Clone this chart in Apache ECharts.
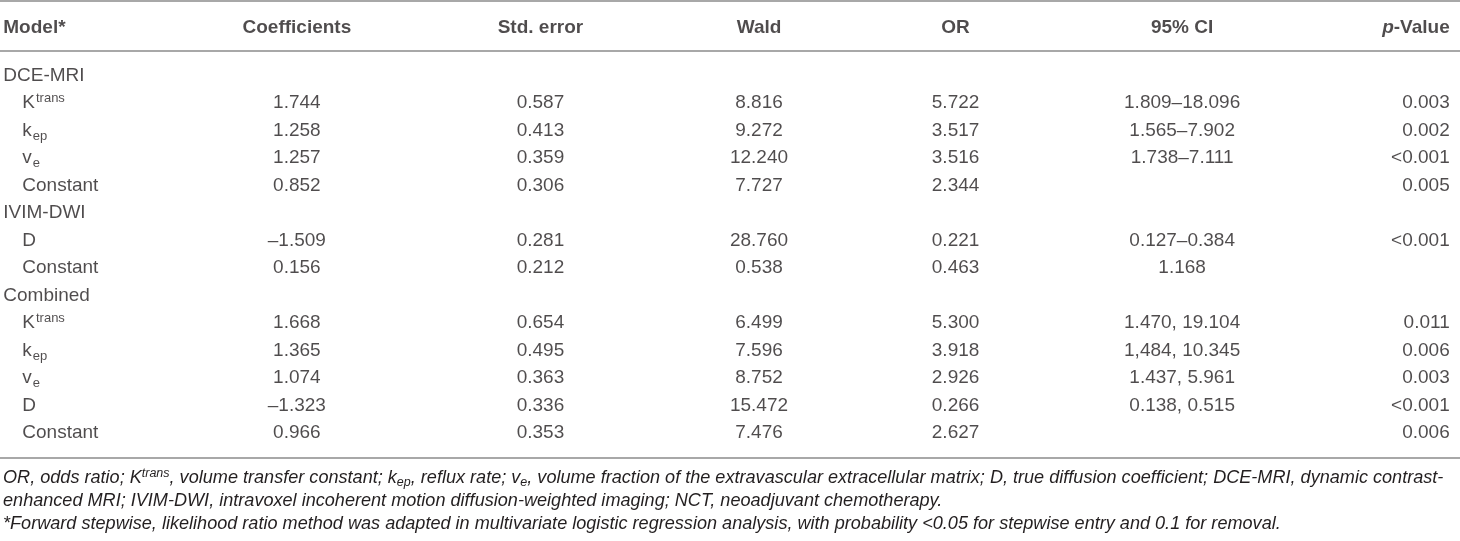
<!DOCTYPE html>
<html>
<head>
<meta charset="utf-8">
<script src="https://cdn.jsdelivr.net/npm/echarts@6/dist/echarts.min.js"></script>
<style>
  html, body { margin: 0; padding: 0; background: #fff; }
  #chart-container { width: 1460px; height: 541px; }
</style>
</head>
<body>
<div id="chart-container"></div>
<script>
const columns = ["Model*", "Coefficients", "Std. error", "Wald", "OR", "95% CI", "p-Value"];

// "^" marks a superscript, "_" a subscript
const models = [
  "DCE-MRI", "K^trans", "k_ep", "v_e", "Constant",
  "IVIM-DWI", "D", "Constant",
  "Combined", "K^trans", "k_ep", "v_e", "D", "Constant"
];
const coefficients = [null, 1.744, 1.258, 1.257, 0.852, null, -1.509, 0.156, null, 1.668, 1.365, 1.074, -1.323, 0.966];
const stdErrors = [null, 0.587, 0.413, 0.359, 0.306, null, 0.281, 0.212, null, 0.654, 0.495, 0.363, 0.336, 0.353];
const waldValues = [null, 8.816, 9.272, 12.240, 7.727, null, 28.760, 0.538, null, 6.499, 7.596, 8.752, 15.472, 7.476];
const oddsRatios = [null, 5.722, 3.517, 3.516, 2.344, null, 0.221, 0.463, null, 5.300, 3.918, 2.926, 0.266, 2.627];
const ci95 = ["", "1.809–18.096", "1.565–7.902", "1.738–7.111", "", "", "0.127–0.384", "1.168", "", "1.470, 19.104", "1,484, 10.345", "1.437, 5.961", "0.138, 0.515", ""];
const pValues = ["", "0.003", "0.002", "<0.001", "0.005", "", "<0.001", "", "", "0.011", "0.006", "0.003", "<0.001", "0.006"];

const footnotes = [
  "{f|OR, odds ratio; K}{fsup|trans}{f|, volume transfer constant; k}{fsub|ep}{f|, reflux rate; v}{fsub|e}{f|, volume fraction of the extravascular extracellular matrix; D, true diffusion coefficient; DCE-MRI, dynamic contrast-}",
  "{f|enhanced MRI; IVIM-DWI, intravoxel incoherent motion diffusion-weighted imaging; NCT, neoadjuvant chemotherapy.}",
  "{f|*Forward stepwise, likelihood ratio method was adapted in multivariate logistic regression analysis, with probability <0.05 for stepwise entry and 0.1 for removal.}"
];

const textColor = "#231f20";
const ruleColor = "#a8a8a8";
const font = "Liberation Sans";

const colAlign = ["left", "center", "center", "center", "center", "center", "right"];
const colOffset = [-101, -16, 19, 29, 17, 35, 94];
const indent = 19;

const fmt = (v) => v === null ? "" : (v < 0 ? "\u2013" + (-v).toFixed(3) : v.toFixed(3));

const richName = (name) => {
  if (name.indexOf("^") > -1) {
    const [b, s] = name.split("^");
    return `{n|${b}}{sup|${s}}`;
  }
  if (name.indexOf("_") > -1) {
    const [b, s] = name.split("_");
    return `{n|${b}}{sub|${s}}`;
  }
  return `{n|${name}}`;
};

const isGroup = coefficients.map((v) => v === null);

const cells = [
  models.map(richName),
  coefficients.map(fmt),
  stdErrors.map(fmt),
  waldValues.map(fmt),
  oddsRatios.map(fmt),
  ci95,
  pValues
];

const bodyRich = {
  n: { fontSize: 19, fontFamily: font, color: textColor, lineHeight: 24 },
  sup: { fontSize: 13, fontFamily: font, color: textColor, verticalAlign: "top", padding: [1, 0, 0, 1] },
  sub: { fontSize: 13, fontFamily: font, color: textColor, verticalAlign: "bottom", padding: [0, 0, 0, 1] }
};

const chart = echarts.init(document.getElementById("chart-container"), null, { renderer: "canvas" });

const bodySeries = cells.map((col, k) => ({
  type: "scatter",
  xAxisIndex: 2,
  yAxisIndex: 1,
  symbolSize: 0,
  silent: true,
  data: col.map((t, i) => {
    if (!t) return null;
    const item = { value: [k, i], text: t };
    if (k === 0 && !isGroup[i]) item.label = { offset: [colOffset[0] + indent, 0] };
    return item;
  }).filter(Boolean),
  label: {
    show: true,
    position: "inside",
    align: colAlign[k],
    verticalAlign: "middle",
    offset: [colOffset[k], 0],
    fontSize: 19,
    fontFamily: font,
    color: textColor,
    formatter: (p) => p.data.text,
    rich: bodyRich
  }
}));

const headerSeries = columns.map((name, k) => ({
  type: "scatter",
  xAxisIndex: 0,
  yAxisIndex: 0,
  symbolSize: 0,
  silent: true,
  data: [[k, 0]],
  label: {
    show: true,
    position: "inside",
    align: colAlign[k],
    verticalAlign: "middle",
    offset: [colOffset[k], 2],
    formatter: name === "p-Value" ? "{hi|p}{h|-Value}" : `{h|${name}}`,
    rich: {
      h: { fontSize: 19, fontWeight: "bold", fontFamily: font, color: textColor },
      hi: { fontSize: 19, fontWeight: "bold", fontStyle: "italic", fontFamily: font, color: textColor }
    }
  }
}));

const hiddenAxis = {
  axisTick: { show: false },
  axisLabel: { show: false },
  splitLine: { show: false }
};

const option = {
  backgroundColor: "#ffffff",
  animation: false,
  title: {
    left: 3,
    top: 466,
    padding: 0,
    text: footnotes.join("\n"),
    textStyle: {
      fontWeight: "normal",
      rich: {
        f: { fontSize: 18.1, fontStyle: "italic", fontWeight: "normal", fontFamily: font, color: textColor, lineHeight: 23 },
        fsup: { fontSize: 12.5, fontStyle: "italic", fontWeight: "normal", fontFamily: font, color: textColor, verticalAlign: "top", padding: [1, 0, 0, 0] },
        fsub: { fontSize: 12.5, fontStyle: "italic", fontWeight: "normal", fontFamily: font, color: textColor, verticalAlign: "bottom" }
      }
    }
  },
  grid: [
    { left: 0, right: 0, top: 1, height: 50 },
    { left: 0, right: 0, top: 51, height: 407 }
  ],
  xAxis: [
    {
      gridIndex: 0, type: "category", data: columns, position: "top",
      axisLine: { show: true, onZero: false, lineStyle: { color: ruleColor, width: 2 } },
      ...hiddenAxis
    },
    {
      gridIndex: 1, type: "category", data: columns, position: "top",
      axisLine: { show: true, onZero: false, lineStyle: { color: ruleColor, width: 2 } },
      ...hiddenAxis
    },
    {
      gridIndex: 1, type: "category", data: columns, position: "bottom",
      axisLine: { show: true, onZero: false, lineStyle: { color: ruleColor, width: 2 } },
      ...hiddenAxis
    }
  ],
  yAxis: [
    { gridIndex: 0, type: "category", data: ["header"], show: false },
    { gridIndex: 1, type: "value", inverse: true, min: -0.9, max: 13.9, show: false }
  ],
  series: [...headerSeries, ...bodySeries]
};

chart.setOption(option);
window.addEventListener("resize", chart.resize);
</script>
</body>
</html>
